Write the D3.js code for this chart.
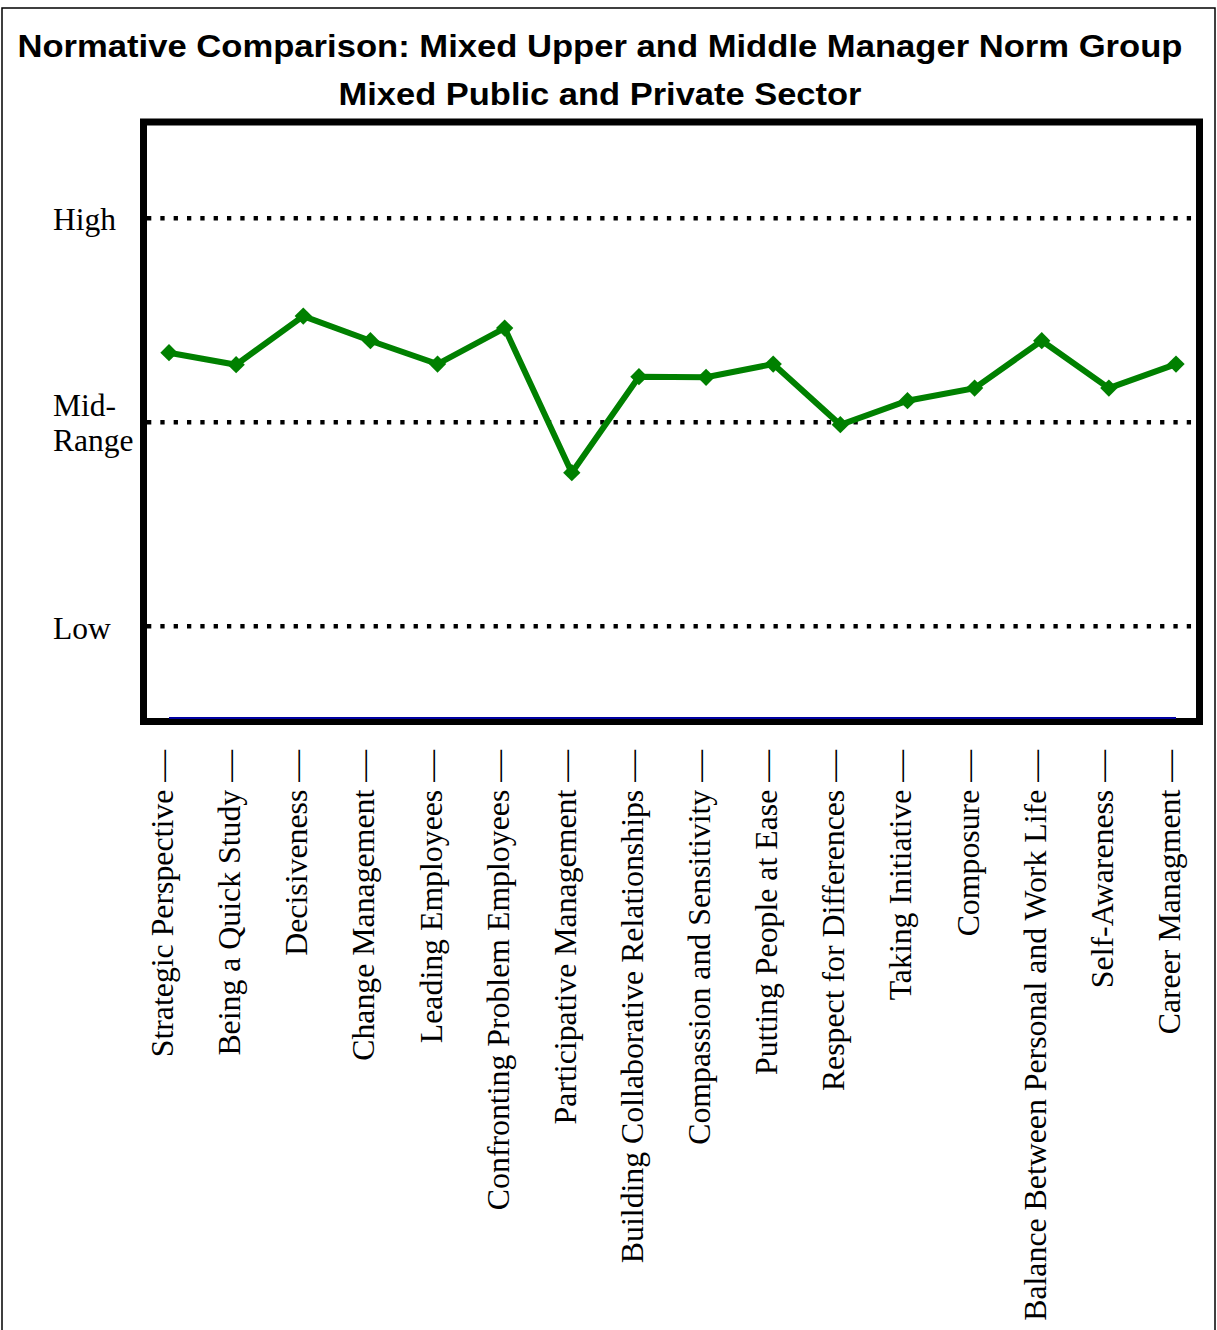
<!DOCTYPE html>
<html>
<head>
<meta charset="utf-8">
<script src="https://cdn.jsdelivr.net/npm/d3@7"></script>
<style>
  html, body { margin: 0; padding: 0; background: #fff; }
  svg { display: block; }
</style>
</head>
<body>
<svg id="chart" width="1217" height="1330"></svg>
<script>
// competencies, left to right
const categories = [
  'Strategic Perspective', 'Being a Quick Study', 'Decisiveness', 'Change Management',
  'Leading Employees', 'Confronting Problem Employees', 'Participative Management',
  'Building Collaborative Relationships', 'Compassion and Sensitivity',
  'Putting People at Ease', 'Respect for Differences', 'Taking Initiative', 'Composure',
  'Balance Between Personal and Work Life', 'Self-Awareness', 'Career Managment'
];
// norm percentile scores
const scores = [61.6, 59.6, 67.7, 63.6, 59.7, 65.7, 41.6, 57.6, 57.5, 59.7, 49.6, 53.6, 55.7, 63.6, 55.7, 59.7];
// second series, sits on the floor of the plot
const baseline = [0.7, 0.7, 0.7, 0.7, 0.7, 0.7, 0.7, 0.7, 0.7, 0.7, 0.7, 0.7, 0.7, 0.7, 0.7, 0.7];
// reference bands
const levelValues = [84, 50, 16];
const titleLines = [
  'Normative Comparison: Mixed Upper and Middle Manager Norm Group',
  'Mixed Public and Private Sector'
];

const svg = d3.select('#chart');
const serif = "'Liberation Serif', 'Times New Roman', serif";
const sans = "'Liberation Sans', Arial, sans-serif";

const x = d3.scalePoint().domain(categories).range([169, 1176]);
const y = d3.scaleLinear().domain([0, 100]).range([722.3, 122.3]);

// outer thin border
svg.append('rect')
  .attr('x', 2).attr('y', 8).attr('width', 1213).attr('height', 1340)
  .attr('fill', 'none').attr('stroke', '#000').attr('stroke-width', 1.5);

// title, stretched to the widths in the picture
const titleW = [1165, 523];
const titleY = [57, 105];
titleLines.forEach((t, i) => {
  svg.append('text')
    .attr('x', 600).attr('y', titleY[i])
    .attr('text-anchor', 'middle')
    .attr('font-family', sans).attr('font-weight', 'bold').attr('font-size', 30.5)
    .attr('textLength', titleW[i]).attr('lengthAdjust', 'spacingAndGlyphs')
    .text(t);
});

// dotted reference lines
svg.append('g').selectAll('line')
  .data(levelValues)
  .join('line')
  .attr('x1', 147).attr('x2', 1196)
  .attr('y1', d => y(d)).attr('y2', d => y(d))
  .attr('stroke', '#000').attr('stroke-width', 4.5)
  .attr('stroke-dasharray', '4.3 9.03');

// level names on the left
const lab = svg.append('g')
  .attr('font-family', serif).attr('font-size', 31.5).attr('fill', '#000');
lab.append('text').attr('x', 53).attr('y', y(levelValues[0]) + 12).text('High');
lab.append('text').attr('x', 53).attr('y', y(levelValues[1]) - 6.5).text('Mid-');
lab.append('text').attr('x', 53).attr('y', y(levelValues[1]) + 29).text('Range');
lab.append('text').attr('x', 53).attr('y', y(levelValues[2]) + 13).text('Low');

// plot frame
svg.append('rect')
  .attr('x', 143.5).attr('y', 122).attr('width', 1056).attr('height', 599.5)
  .attr('fill', 'none').attr('stroke', '#000').attr('stroke-width', 7);

const line = d3.line().x((d, i) => x(categories[i])).y(d => y(d));

// blue floor series, drawn over the frame edge
svg.append('path')
  .datum(baseline)
  .attr('d', line)
  .attr('fill', 'none').attr('stroke', '#0000a0').attr('stroke-width', 2);

// green score line + diamond markers
svg.append('path')
  .datum(scores)
  .attr('d', line)
  .attr('fill', 'none').attr('stroke', '#008000').attr('stroke-width', 6)
  .attr('stroke-linejoin', 'miter');

const diamond = d3.symbol(d3.symbolSquare, 150);
svg.append('g').selectAll('path')
  .data(scores)
  .join('path')
  .attr('d', diamond)
  .attr('transform', (d, i) => `translate(${x(categories[i])},${y(d)}) rotate(45)`)
  .attr('fill', '#008000');

// rotated category labels, each with its trailing dash tick
svg.append('g').selectAll('text')
  .data(categories)
  .join('text')
  .attr('transform', d => `translate(${x(d) + 4},750) rotate(-90)`)
  .attr('text-anchor', 'end')
  .attr('font-family', serif).attr('font-size', 31.8).attr('fill', '#000')
  .text(d => d + ' \u2014');
</script>
</body>
</html>
